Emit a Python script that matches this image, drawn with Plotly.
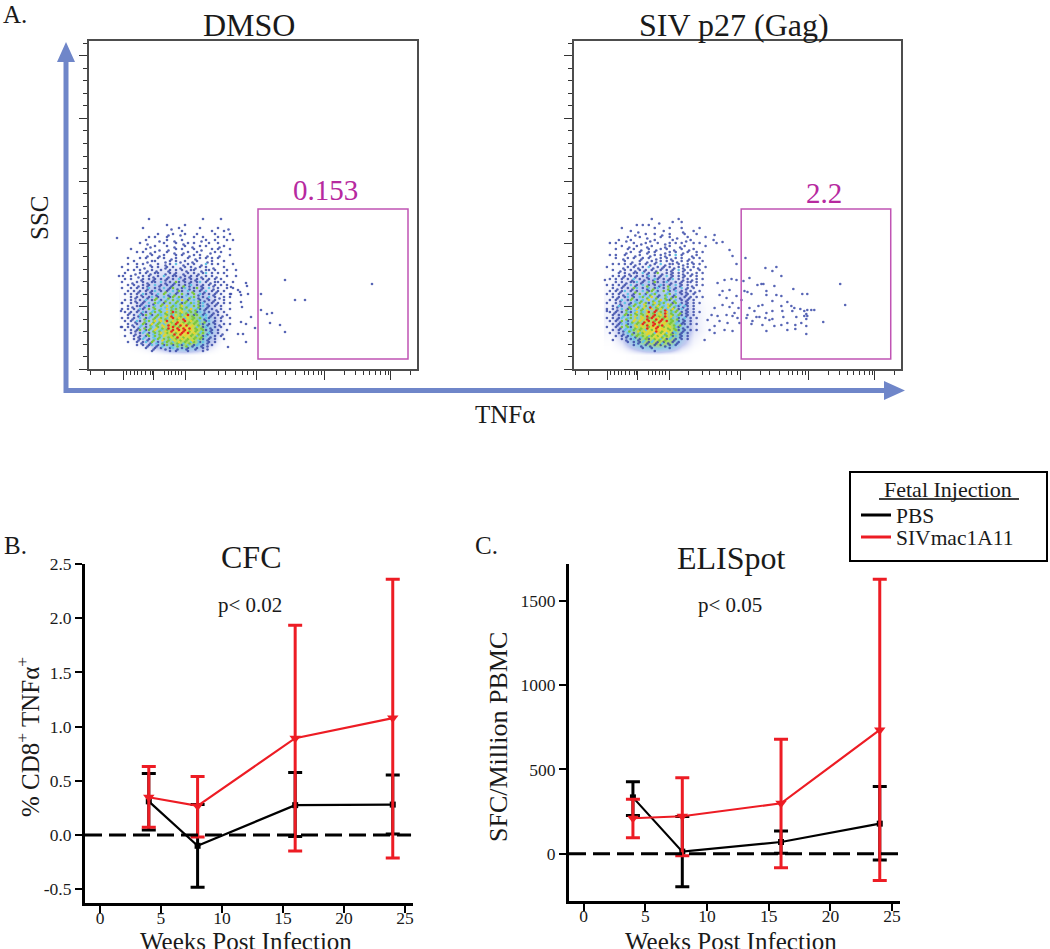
import plotly.graph_objects as go

# ---------- Panel B / C data ----------
weeks = [4, 8, 16, 24]
cfc_pbs = [0.31, -0.10, 0.275, 0.28]
cfc_pbs_hi = [0.566, 0.28, 0.576, 0.554]
cfc_pbs_lo = [0.046, -0.483, -0.015, 0.009]
cfc_siv = [0.348, 0.268, 0.893, 1.078]
cfc_siv_hi = [0.631, 0.539, 1.934, 2.36]
cfc_siv_lo = [0.07, -0.018, -0.148, -0.212]

eli_pbs = [334, 12, 69, 178]
eli_pbs_hi = [427, 220, 135, 398]
eli_pbs_lo = [226, -196, 2, -38]
eli_siv = [210, 222, 299, 734]
eli_siv_hi = [323, 451, 679, 1629]
eli_siv_lo = [95, -12, -83, -160]

cfc_ticks = [-0.5, 0, 0.5, 1.0, 1.5, 2.0, 2.5]
cfc_tick_text = ["-0.5", "0.0", "0.5", "1.0", "1.5", "2.0", "2.5"]
eli_ticks = [0, 500, 1000, 1500]
week_ticks = [0, 5, 10, 15, 20, 25]

# ---------- Panel A: hand-read density under the dots ----------
density_x = [36, 48, 60, 72, 84, 96, 108, 120, 132, 144]
density_y = [122, 110, 98, 86, 74, 62, 50, 38, 26, 14]
dmso_density = [
    [0, 0, 0.05, 0.1, 0.1, 0.1, 0.1, 0.05, 0, 0],
    [0, 0.1, 0.2, 0.3, 0.3, 0.3, 0.3, 0.2, 0.1, 0],
    [0, 0.3, 0.5, 0.7, 0.7, 0.7, 0.6, 0.4, 0.2, 0],
    [0.2, 0.5, 0.9, 1.0, 1.1, 1.1, 1.0, 0.6, 0.3, 0],
    [0.3, 0.7, 1.0, 1.3, 1.5, 1.5, 1.3, 0.9, 0.4, 0.1],
    [0.3, 0.8, 1.3, 1.7, 2.2, 2.3, 1.8, 1.1, 0.5, 0.1],
    [0.3, 0.9, 1.5, 2.3, 3.0, 3.3, 2.7, 1.5, 0.6, 0.1],
    [0.2, 0.9, 1.6, 2.5, 3.6, 4.2, 3.5, 1.8, 0.6, 0.1],
    [0.1, 0.5, 1.0, 1.8, 2.8, 3.2, 2.6, 1.1, 0.3, 0],
    [0, 0, 0.1, 0.2, 0.3, 0.3, 0.2, 0.1, 0, 0],
]
gag_density = [
    [0, 0.05, 0.1, 0.1, 0.1, 0.1, 0.05, 0, 0, 0],
    [0.1, 0.2, 0.3, 0.3, 0.3, 0.3, 0.2, 0.1, 0, 0],
    [0.2, 0.4, 0.6, 0.7, 0.7, 0.6, 0.4, 0.2, 0.1, 0],
    [0.3, 0.7, 0.9, 1.1, 1.1, 1.0, 0.7, 0.4, 0.1, 0.1],
    [0.4, 0.8, 1.2, 1.4, 1.5, 1.3, 1.0, 0.5, 0.2, 0.1],
    [0.5, 1.1, 1.6, 2.2, 2.3, 1.9, 1.2, 0.6, 0.3, 0.2],
    [0.5, 1.3, 2.3, 3.0, 3.4, 2.9, 1.6, 0.7, 0.3, 0.2],
    [0.4, 1.3, 2.5, 3.6, 4.3, 3.7, 1.9, 0.7, 0.3, 0.2],
    [0.2, 0.7, 1.8, 2.8, 3.3, 2.7, 1.2, 0.4, 0.1, 0],
    [0, 0.05, 0.2, 0.3, 0.3, 0.2, 0.1, 0, 0, 0],
]

# ---------- Panel A: hand-read maps of the dot clouds ----------
# . empty, b dark blue, c cyan, g green, y yellow, r red; capitals sit half a cell off the lattice
dmso_map = [
"..........b.................b.....b.....",
"........................................",
"................b.....b.................",
"........b........B..b......b.....b..B...",
".....................b.........b...b....",
".............b..B.b.B.b...b.....b....b..",
"..........b.b...b........b..b....b.b....",
".........b...B..b.B..b.....B.b..b...b.b.",
".......b.B.....b...b.B.b.b....b..b......",
"..........B.b...b.B...b.B..b.b...B.b....",
"....b....b...B..B..b.b...b.B...b.b...b..",
"......b.b.B.b...b.B..B.b..b...B.b.b.....",
".........B.b.B.b...b.b.B.b.b.B...B...b..",
"...b...b.b...b.b.B.b...b.B.b.b.b.b......",
".....b...B.bb..B.b.bB.b.B.b..B.b...b....",
"...b..b.b.B..b.B.b.c.B.b.b.B.c.b.b....b.",
".b....b.B..b.b.Bb.b.B.b.bB.b.b.B...b....",
"...b.b.b.B.bB.b.Bb.b.bB.bb.B.bb.b...b..b",
"..b..B.b.bB.bb.B.bBb.B.b.bB.bc.b.b.b....",
"b...b.B.b.bB.b.cB.bbB.bBb.bB.b.bB...b..b",
"..b.b..Bb.bBb.bBb.b.cBb.bBb.bBb.b.b.....",
".b..B.b.bB.bb.cB.bBgb.bBb.bc.bB.bb.b..b.",
"...b.bB.bBb.cBb.bBb.bGbBc.bBb.bBb.b.b...",
".b..b.b.bBc.bB.cBbgB.bcB.bgBb.cB.b..b.b.",
"...b.bBb.bBbc.bGb.cBgb.cGb.bBc.bBb.b....",
"..b.b.bBcb.bBc.gBcGb.gCb.gBcb.bBb.b..b..",
"....bBb.bBbcGb.cGbgCgb.GcgB.bBc.bB.b.b..",
"..b.bB.bBc.bgCbGc.gGcyGb.cGbB.bBb..b....",
".b..b.bBb.cBgcGb.gCgGbgCgcGbcB.bBb.b.b..",
"...bB.bbBcbGc.gCyGgcGyGc.gGbcBb.b.b.....",
".b.b.bBcb.gCgGc.yGcgYgcGyGcbBb.bB.b..b..",
"..bBb.bBcbGcgCgGyGrgGyGcgGbcB.bB.b.b....",
"...b.bBcbgCbGgcYgRcyGcYrGbgCbcBb.bB.b...",
".b.bBb.cGbcGgYgGcyrGyRcyGgCgBcb.b.b..b..",
"..b.bBcbGcgGyGyYrGyRyGrGyGgcGbcBb.b.....",
"...bB.bCgbGyGgYcRyGrRyRgYgGcbBb.bB.b.b..",
".b.b.bBcGbGcYgGyRyrRgRyRyGcGbcB.b.b.....",
"..b.bBbgCbgGyGcYgRrYrRrGyGgCgbBb.b..b...",
"....bB.bcGbCgGyYgyRgRrYrGyGcgBcb.bB.....",
"..b..bBbCbgCgGcyGYgRyGyYgGcGbcB.b.b.....",
".....bBbcBbGcgYgGcYgGyGgYgCgbBb.b..b....",
"...b..bBbcBgCbGcgGcGyCgGcgCbcBb.b.......",
"......b.bBbcBbCbgCbGcbGcBbcBbB.b........",
".........b.Bb.bB.bcB.bBb.Bb.bB..........",
"...........b.....b.b...b....b...........",
]
dmso_extra_x = [196, 283, 206, 216, 172, 172, 178, 183, 181, 191, 196, 166, 162, 157, 158, 159, 152, 149, 151, 142, 142, 152, 153, 152, 157, 154, 149, 157, 139, 28, 32, 32, 33, 34]
dmso_extra_y = [89, 85, 69, 69, 75, 59, 55, 56, 46, 44, 37, 41, 52, 86, 83, 75, 74, 79, 77, 82, 75, 67, 62, 47, 45, 35, 35, 27, 22, 131, 58, 42, 66, 93]

gag_map = [
"................b........b..............",
"..................B....b..b.............",
"...........b.b.b........................",
"......b..........b....b...b.....b.......",
".........b.B........b.....B...b.........",
"..........B...b..b.B..b....b...b........",
"........b...b.B....b..b.B...b.....b.....",
".....b.B.b.....B.b.....b...B.b..........",
"..b.b.....b.B.b...b.B.b.b.b...b.b.......",
"......b.B..b..B.b...B.b..B.b......b.....",
"....b...b.b.B..b.B.b.b.B..b.B.b.........",
".......B.b..b.Bb.b..B.b.b.B.b..b.b......",
"..b.b..b..B.b..B.b.bB.b.c.b..B.b........",
"....b.B.b.b.Bb.b.B.b.bB.b.b.B.b.b.......",
".......b.B..b.B.bB.b.b.bB.b.bB...b......",
"...b.b.b.bB.b.bB.b.cB.bb.bB.b.b.b.......",
".b....B.b.bB.b.cB.bBb.bB.bB.b.bB..b.....",
"...b.B.b.bB.bBb.bB.b.bBb.cBb.b..b.......",
".....b.bB.bb.cBb.bgB.bBb.bB.bB.b.b......",
"...b.bBb.bBb.bBc.bBb.cBb.bBb.b.b........",
"..b.b.b.bBc.bB.bBcb.bBbc.bB.bB.b.b......",
"....b.bB.bbcBb.cBgb.bcB.bBb.bb.b........",
".b.b.bBb.cBb.cGb.bBcbGb.cBb.bB.b.b......",
"...bB.b.bBgc.bBcGbc.bGcBb.cBb.b.........",
"..b.bBbc.bGb.cGbgCb.gCb.cBbB.bB.b.......",
".b.b.bB.cBb.gCbGcgB.GcgBc.bBb.b.........",
"...bBb.bcGb.cgGcyGb.GcGbgB.bBb.b.b......",
"..b.bBc.bgCbGc.yGcGyCgbGc.bBb.b.........",
".b..bB.cBbGcgYgbGyGcgYGbgCbBb.b.b.......",
"...bBcb.GcgGcYgRcGyGcYgGcbBcb.b.........",
".b.bB.cGbgCyGgYcyRgyRcGyGbcBb.b.........",
"..bBb.bGcbGyGcYrGrYgRyGcgGbBb.b.b.......",
"...b.bCgbgYgYgRyRrGyRyYgCgbBb.b.........",
".b.bBbcGcgYcYyRgrRyRgyGcGbBc.b.b........",
"..b.bBgCbGyGyRyrRgRrYrGgCbBb.b..........",
"...bBbcGbcYgYrRyRrGRyYgGcGbb.b.b........",
".b..bBgCgbGyGyRgyRrYgGyGcbB.b...........",
"...b.bBcGcgYgYcYgRyGyYgCgbBb.b.b........",
"..b..bB.cGbGcgYyGcYgGcGbcBb.b...........",
"....b.bBbcBgCgGcgYgGcgCbcBb.b...........",
"......bB.bcBbCgbCgGcGbcBb.b.b...........",
"........b.bBbcBbcBbCbB.bBb..............",
"..........b.B.bB.b.bB.b.b...............",
".............b..b.....b.................",
".................b......................",
]
gag_extra_x = [172, 192, 203, 199, 208, 176, 170, 184, 188, 190, 201, 220, 193, 174, 178, 193, 203, 208, 229, 234, 267, 272, 214, 199, 189, 185, 176, 208, 218, 221, 227, 234, 238, 241, 231, 233, 231, 234, 219, 209, 199, 193, 181, 174, 183, 186, 192, 199, 210, 223, 233, 173, 179, 178, 189, 196, 208, 214, 222, 228, 233, 250, 193, 214, 222, 233, 201,
               159, 163, 156, 149, 141, 140, 143, 171, 163, 158, 151, 144, 149, 156, 163, 153, 146, 168, 159, 149, 141, 156, 165, 161, 153, 144, 138, 159, 164, 166, 154, 146, 141, 134, 159, 151, 141, 136, 131, 31, 33, 39]
gag_extra_y = [111, 101, 102, 98, 93, 91, 88, 84, 85, 85, 83, 80, 78, 77, 75, 74, 74, 73, 75, 75, 85, 64, 67, 68, 64, 63, 61, 63, 63, 61, 60, 59, 59, 59, 58, 55, 53, 53, 58, 58, 58, 56, 58, 54, 52, 52, 51, 50, 52, 52, 50, 51, 48, 45, 44, 49, 44, 46, 44, 46, 43, 47, 38, 39, 40, 35, 43,
               113, 105, 119, 127, 134, 129, 126, 78, 89, 90, 89, 86, 78, 79, 73, 71, 74, 69, 66, 64, 61, 62, 61, 56, 54, 53, 54, 53, 51, 46, 46, 48, 43, 49, 38, 39, 36, 39, 29, 89, 58, 29]

gate_dmso_x = [169, 319]
gate_gag_x = [167.7, 317.7]
gate_y = [10, 160]
flow_major_x = [34, 64, 96, 167.5, 235, 301]
flow_minor_x = [1, 15, 37, 41, 45, 48, 52, 56, 61, 63, 75, 79, 82, 86, 89, 92, 115, 129, 136, 146, 153, 158, 164,
                187, 196, 206, 215, 219, 224, 229, 232, 255, 266, 274, 280, 286, 291, 296, 299, 321]
flow_major_y = [0, 62.6, 125.2, 188, 250.7, 313.3]
flow_minor_y = [12.5, 25, 37.6, 50, 75, 87.6, 100, 112.7, 137.7, 150.3, 162.8, 175.4, 200.5, 213, 225.6, 238.2,
                263.2, 275.8, 288.3, 300.9, 326]

dot_colors = {"b": "#3a4aa8", "c": "#62c4e4", "g": "#7cc63c", "y": "#e4d42c", "r": "#e62a1e"}
density_scale = [[0, "rgba(255,255,255,0)"], [0.2, "#c3caf0"], [0.4, "#8fc9e6"], [0.6, "#a6d86a"],
                 [0.8, "#e8dc48"], [1, "#f07030"]]
RED = "#ed1c24"
BLACK = "#000000"
SERIF = "Liberation Serif"
INK = "#1a1a1a"
W, H = 1050, 949


def xf(p):
    return p / W


def yf(p):
    return 1 - p / H


fig = go.Figure()


def add_map(density, rows, ex, ey, xa, ya):
    fig.add_trace(go.Heatmap(x=density_x, y=density_y, z=density, zmin=0, zmax=5, zsmooth="best",
                             colorscale=density_scale, showscale=False, hoverinfo="skip",
                             xaxis=xa, yaxis=ya))
    for key in "bcgyr":
        xs, ys = [], []
        for r, row in enumerate(rows):
            for c, ch in enumerate(row):
                if ch.lower() == key:
                    shift = 1.5 if ch.isupper() else 0
                    xs.append(30 + 3 * c + shift)
                    ys.append(150 - 3 * r - shift)
        if key == "b":
            xs += ex
            ys += ey
        fig.add_trace(go.Scatter(x=xs, y=ys, mode="markers", xaxis=xa, yaxis=ya, showlegend=False,
                                 hoverinfo="skip",
                                 marker=dict(color=dot_colors[key], size=2.6, line=dict(width=0),
                                             opacity=0.85 if key == "b" else 1)))


add_map(dmso_density, dmso_map, dmso_extra_x, dmso_extra_y, "x", "y")
add_map(gag_density, gag_map, gag_extra_x, gag_extra_y, "x2", "y2")


def add_series(x, y, hi, lo, color, symbol, size, xa, ya, name):
    fig.add_trace(go.Scatter(
        x=x, y=y, mode="lines+markers", name=name, xaxis=xa, yaxis=ya, showlegend=False,
        line=dict(color=color, width=2.2),
        marker=dict(color=color, symbol=symbol, size=size),
        error_y=dict(type="data", symmetric=False,
                     array=[h - v for h, v in zip(hi, y)],
                     arrayminus=[v - l for v, l in zip(y, lo)],
                     color=color, thickness=3, width=7)))


add_series(weeks, cfc_pbs, cfc_pbs_hi, cfc_pbs_lo, BLACK, "square", 6, "x3", "y3", "PBS")
add_series(weeks, cfc_siv, cfc_siv_hi, cfc_siv_lo, RED, "triangle-down", 10, "x3", "y3", "SIVmac1A11")
add_series(weeks, eli_pbs, eli_pbs_hi, eli_pbs_lo, BLACK, "square", 6, "x4", "y4", "PBS")
add_series(weeks, eli_siv, eli_siv_hi, eli_siv_lo, RED, "triangle-down", 10, "x4", "y4", "SIVmac1A11")

for nm, col, lg in (("PBS", BLACK, "legend"), ("SIVmac1A11", RED, "legend2")):
    fig.add_trace(go.Scatter(x=[None], y=[None], mode="lines", name=nm, xaxis="x4", yaxis="y4", legend=lg,
                             showlegend=True, line=dict(color=col, width=3)))


def flow_axes(x0, x1):
    xa = dict(domain=[xf(x0), xf(x1)], range=[0, 328], showgrid=False, zeroline=False, showline=True, mirror=True,
              linecolor="#4d4d4d", linewidth=1.5, ticks="outside", tickvals=flow_major_x, ticklen=9, tickwidth=1.2,
              tickcolor="#333", showticklabels=False,
              minor=dict(tickvals=flow_minor_x, ticks="outside", ticklen=4, tickwidth=1, tickcolor="#333"))
    ya = dict(domain=[yf(369), yf(41)], range=[0, 328], showgrid=False, zeroline=False, showline=True, mirror=True,
              linecolor="#4d4d4d", linewidth=1.5, ticks="outside", tickvals=flow_major_y, ticklen=8, tickwidth=1.2,
              tickcolor="#333", showticklabels=False,
              minor=dict(tickvals=flow_minor_y, ticks="outside", ticklen=4, tickwidth=1, tickcolor="#333"))
    return xa, ya


def data_axes(x0, x1, xr, y_top, y_bot, yr, yticks, ticksize):
    xa = dict(domain=[xf(x0), xf(x1)], range=xr, showgrid=False, zeroline=False, showline=True, linecolor="black",
              linewidth=3, ticks="outside", ticklen=7, tickwidth=2.2, tickcolor="black", tickvals=week_ticks,
              ticklabelstandoff=-10,
              tickfont=dict(family=SERIF, size=ticksize, color=INK))
    ya = dict(domain=[yf(y_bot), yf(y_top)], range=yr, showgrid=False, zeroline=False, showline=True, linecolor="black",
              linewidth=3, ticks="outside", ticklen=7, tickwidth=2.2, tickcolor="black", tickvals=yticks,
              tickfont=dict(family=SERIF, size=ticksize, color=INK))
    return xa, ya


ax1, ay1 = flow_axes(89, 417)
ax2, ay2 = flow_axes(574, 901)
ax3, ay3 = data_axes(85, 413, [-1.23, 25.66], 564, 903, [-0.628, 2.5], cfc_ticks, 17.5)
ay3["ticktext"] = cfc_tick_text
ax4, ay4 = data_axes(569, 900, [-1.18, 25.64], 564, 901, [-281, 1719], eli_ticks, 17.5)
for a in (ax1, ay1, ax2, ay2, ax3, ay3, ax4, ay4):
    a["fixedrange"] = True
ax2.update(anchor="y2")
ay2.update(anchor="x2")
ax3.update(anchor="y3")
ay3.update(anchor="x3")
ax4.update(anchor="y4")
ay4.update(anchor="x4")


def label(text, x, y, size, color=INK, angle=0):
    return dict(text=text, x=xf(x), y=yf(y), xref="paper", yref="paper", xanchor="center", yanchor="middle",
                showarrow=False, textangle=angle, font=dict(family=SERIF, size=size, color=color))


MAG = "#b7299f"
annotations = [
    label("A.", 15, 14, 25), label("B.", 15, 545, 25), label("C.", 486, 545, 25),
    label("DMSO", 249, 25, 32), label("SIV p27 (Gag)", 734, 25, 32),
    label("0.153", 325, 190, 29, MAG), label("2.2", 824, 193, 29, MAG),
    label("SSC", 40, 218, 25, angle=-90), label("TNF\u03b1", 505, 414, 25),
    label("CFC", 251, 557, 32), label("ELISpot", 731, 558, 32),
    label("p&lt; 0.02", 250, 605, 21), label("p&lt; 0.05", 730, 605, 21),
    label("Fetal Injection", 948, 489, 22),
    label("Weeks Post Infection", 246, 941, 25), label("Weeks Post Infection", 731, 941, 25),
    label("% CD8<sup>+</sup> TNF\u03b1<sup>+</sup>", 28, 737, 25, angle=-90),
    label("SFC/Million PBMC", 498, 737, 26, angle=-90),
]

BLUE = "#6f86c9"


def paper_path(points):
    return "M " + " L ".join(f"{xf(a):.5f},{yf(b):.5f}" for a, b in points) + " Z"


shapes = [
    dict(type="path", xref="paper", yref="paper", fillcolor=BLUE, line=dict(width=0),
         path=paper_path([(63.5, 393), (63.5, 62), (57, 62), (66, 42), (75, 62), (68.5, 62), (68.5, 388),
                          (884, 388), (884, 381), (905, 390.5), (884, 400), (884, 393)])),
    dict(type="rect", xref="x", yref="y", x0=gate_dmso_x[0], x1=gate_dmso_x[1], y0=gate_y[0], y1=gate_y[1],
         line=dict(color="#c054b4", width=1.5)),
    dict(type="rect", xref="x2", yref="y2", x0=gate_gag_x[0], x1=gate_gag_x[1], y0=gate_y[0], y1=gate_y[1],
         line=dict(color="#c054b4", width=1.5)),
    dict(type="line", xref="x3", yref="y3", x0=-1.23, x1=25.5, y0=0, y1=0,
         line=dict(color="black", width=3, dash="17px,7px")),
    dict(type="line", xref="x4", yref="y4", x0=-1.18, x1=25.6, y0=0, y1=0,
         line=dict(color="black", width=3, dash="17px,7px")),
    dict(type="rect", xref="paper", yref="paper", x0=xf(850), x1=xf(1047), y0=yf(472), y1=yf(561),
         line=dict(color="black", width=2)),
    dict(type="line", xref="paper", yref="paper", x0=xf(879), x1=xf(1019), y0=yf(499), y1=yf(499),
         line=dict(color="black", width=1.5)),
]

legend_common = dict(xanchor="left", yanchor="middle", bgcolor="rgba(0,0,0,0)", borderwidth=0,
                     font=dict(family=SERIF, size=21.5, color=INK), itemwidth=30)

fig.update_layout(
    width=W, height=H, margin=dict(l=0, r=0, t=0, b=0, autoexpand=False), autosize=False,
    paper_bgcolor="white", plot_bgcolor="white", font=dict(family=SERIF, color=INK),
    xaxis=ax1, yaxis=ay1, xaxis2=ax2, yaxis2=ay2, xaxis3=ax3, yaxis3=ay3, xaxis4=ax4, yaxis4=ay4,
    annotations=annotations, shapes=shapes,
    legend=dict(x=xf(856), y=yf(515), **legend_common),
    legend2=dict(x=xf(856), y=yf(537), **legend_common),
)

fig.write_html("out.html", config={"displayModeBar": False},
               post_script="document.body.style.margin='0';document.body.style.overflow='hidden';")
